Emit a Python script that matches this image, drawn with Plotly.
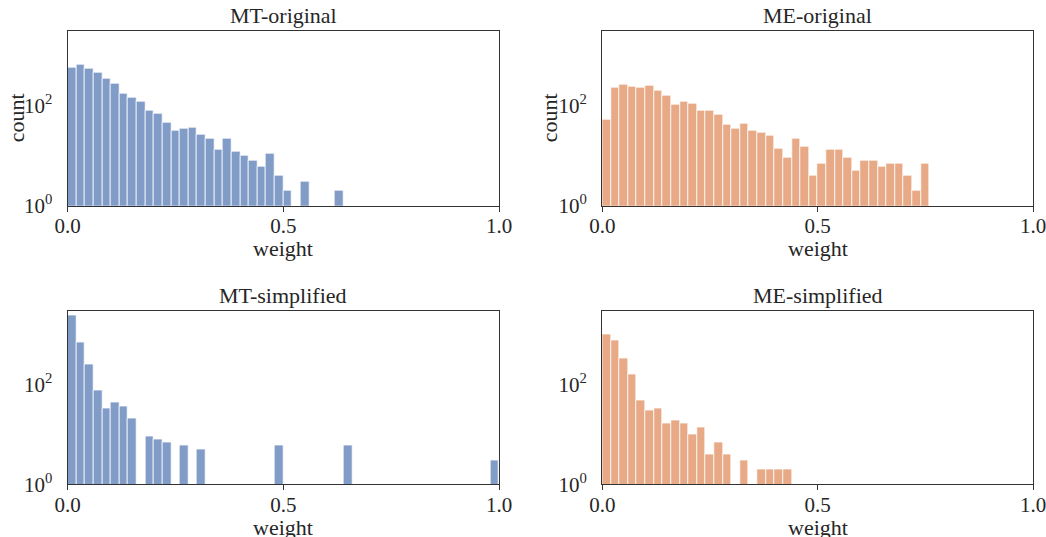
import plotly.graph_objects as go

# ---------------- data (counts per 0.02-wide bin, starting at 0.0) ----------------
BIN_WIDTH = 0.02

mt_original = [575, 652, 535, 445, 342, 268, 174, 143, 117, 77, 68, 46, 31, 35, 36, 26,
               22, 13, 22, 12, 10, 8, 6, 11, 4, 2, 0, 3, 0, 0, 0, 2]

me_original = [53, 223, 256, 237, 223, 248, 200, 158, 102, 117, 107, 78, 78, 66, 41, 35,
               43, 31, 28, 25, 14, 9, 22, 15, 4, 7, 13, 13, 9, 5, 8, 8, 6, 7, 7, 4, 2, 7]

mt_simplified = [2430, 711, 258, 77, 34, 44, 37, 21, 0, 9, 8, 7, 0, 6, 0, 5,
                 0, 0, 0, 0, 0, 0, 0, 0, 6, 0, 0, 0, 0, 0, 0, 0,
                 6, 0, 0, 0, 0, 0, 0, 0, 0, 0, 0, 0, 0, 0, 0, 0, 0, 3]

me_simplified = [1000, 769, 340, 158, 48, 31, 34, 17, 19, 17, 10, 14, 4, 7, 4, 0,
                 3, 0, 2, 2, 2, 2]

panel_titles = ["MT-original", "ME-original", "MT-simplified", "ME-simplified"]
x_tick_vals = [0.0, 0.5, 1.0]
x_tick_text = ["0.0", "0.5", "1.0"]
y_tick_vals = [1, 100]
y_tick_text = ["10<sup>0</sup>", "10<sup>2</sup>"]
x_label = "weight"
y_label = "count"

BLUE = "#829cc8"
ORANGE = "#e7a986"
EDGE = "rgba(255,255,255,0.75)"
AXIS = "#333333"
FONT = "Liberation Serif"
TXT = "#262626"

W, H = 1046, 537


def fx(p):
    return p / W


def fy(p):
    return 1 - p / H


# panel pixel boxes: (left, right, top, bottom)
boxes = [
    (67.7, 499.0, 30.7, 205.7),
    (602.3, 1033.0, 30.7, 205.7),
    (67.7, 499.0, 310.5, 484.3),
    (602.3, 1033.0, 310.5, 484.3),
]
series = [mt_original, me_original, mt_simplified, me_simplified]
colors = [BLUE, ORANGE, BLUE, ORANGE]

fig = go.Figure()
layout = dict(
    width=W, height=H,
    margin=dict(l=0, r=0, t=0, b=0, autoexpand=False),
    paper_bgcolor="white", plot_bgcolor="white",
    showlegend=False, bargap=0,
    font=dict(family=FONT, size=21, color=TXT),
)
annotations = []

for i, (counts, col, box, title) in enumerate(zip(series, colors, boxes, panel_titles)):
    n = i + 1
    xa = "x" if n == 1 else f"x{n}"
    ya = "y" if n == 1 else f"y{n}"
    centers = [BIN_WIDTH * (k + 0.5) for k in range(len(counts))]
    vals = [c if c > 0 else None for c in counts]
    fig.add_trace(go.Bar(
        x=centers, y=vals, width=BIN_WIDTH, xaxis=xa, yaxis=ya,
        marker=dict(color=col, line=dict(color=EDGE, width=1)),
        hoverinfo="x+y",
    ))
    l, r, t, b = box
    layout["xaxis" if n == 1 else f"xaxis{n}"] = dict(
        domain=[fx(l), fx(r)], anchor=ya, range=[0, 1], automargin=False,
        showline=True, mirror=True, linecolor=AXIS, linewidth=1.3,
        showgrid=False, zeroline=False,
        ticks="outside", ticklen=5, tickwidth=1.3, tickcolor=AXIS,
        tickvals=x_tick_vals, ticktext=x_tick_text,
        ticklabelstandoff=-4, ticklabeloverflow="allow",
        tickfont=dict(family=FONT, size=21, color=TXT),
    )
    layout["yaxis" if n == 1 else f"yaxis{n}"] = dict(
        domain=[fy(b), fy(t)], anchor=xa, type="log", range=[0, 3.49], automargin=False,
        showline=True, mirror=True, linecolor=AXIS, linewidth=1.3,
        showgrid=False, zeroline=False,
        ticks="", tickvals=y_tick_vals, ticktext=y_tick_text,
        ticklabelstandoff=10, ticklabeloverflow="allow",
        tickfont=dict(family=FONT, size=21, color=TXT),
    )
    cx = (l + r) / 2
    # panel title
    annotations.append(dict(
        text=title, x=fx(cx), y=fy(t - 15), xref="paper", yref="paper",
        xanchor="center", yanchor="middle", showarrow=False,
        font=dict(family=FONT, size=22, color=TXT),
    ))
    # x label
    annotations.append(dict(
        text=x_label, x=fx(cx), y=fy(b + 43), xref="paper", yref="paper",
        xanchor="center", yanchor="middle", showarrow=False,
        font=dict(family=FONT, size=22, color=TXT),
    ))

# y labels only on the top row
for lx, box in [(16, boxes[0]), (549, boxes[1])]:
    l, r, t, b = box
    annotations.append(dict(
        text=y_label, x=fx(lx), y=fy((t + b) / 2), xref="paper", yref="paper",
        xanchor="center", yanchor="middle", showarrow=False, textangle=-90,
        font=dict(family=FONT, size=22, color=TXT),
    ))

layout["annotations"] = annotations
fig.update_layout(**layout)
fig.write_html("out.html", config={"displayModeBar": False},
               post_script="document.body.style.margin='0';")
